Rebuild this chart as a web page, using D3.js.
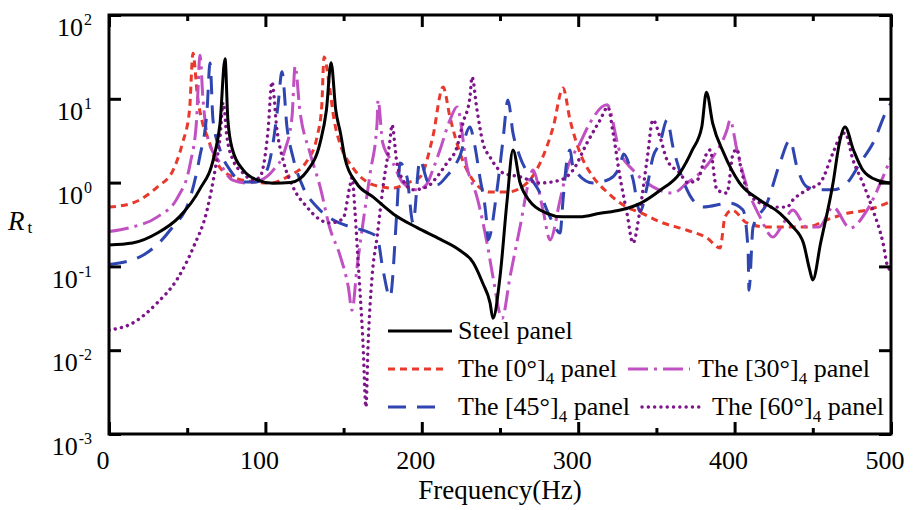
<!DOCTYPE html>
<html><head><meta charset="utf-8">
<script src="https://cdn.jsdelivr.net/npm/d3@7"></script>
<style>
html,body{margin:0;padding:0;background:#fff;}
#wrap{position:relative;width:915px;height:510px;overflow:hidden;}
#wrap svg{position:absolute;left:0;top:0;display:block;}
.lbl{position:absolute;white-space:nowrap;line-height:1;color:#000;font-family:'Liberation Serif','Times New Roman',serif;}
.lbl span{position:relative;}
</style></head>
<body>
<div id="wrap"><svg id="chart" width="915" height="510"></svg></div>
<script>
// ---- data (frequency Hz, R_t) ----
const xTicks = [0,100,200,300,400,500];
const xMinorTicks = [50,150,250,350,450];
const yTickExps = [-3,-2,-1,0,1,2];

const steel = [[0,0.18],[15,0.19],[31,0.25],[45,0.39],[58,0.83],[67,2.0],[71,5.1],[74.2,30],[76,5.6],[79,2.45],[86,1.4],[95,1.07],[105,0.98],[116,1.0],[127,1.4],[135,3.0],[139,7.3],[142,27],[145,7.3],[148,3.9],[151,1.9],[158,1.0],[169,0.67],[182,0.42],[197,0.29],[212,0.21],[224,0.157],[233,0.11],[239,0.063],[243.6,0.037],[245.5,0.024],[250,0.075],[254.5,0.6],[258.3,2.45],[262.8,1.0],[269,0.6],[280,0.43],[290,0.39],[301,0.39],[314,0.43],[327,0.47],[340,0.57],[352,0.8],[365,1.3],[373,2.45],[379,4.6],[382,12],[386,5.1],[393,2.26],[403,1.0],[416,0.62],[429,0.43],[437,0.3],[444,0.19],[448,0.091],[450,0.069],[455,0.19],[463,1.0],[467,2.97],[470.6,4.6],[476,2.45],[482,1.41],[491,1.07],[500,0.99]];

const panel0 = [[0,0.51],[15,0.57],[31,0.89],[41,1.41],[47,2.97],[51.5,7.35],[53.7,35],[56.5,11],[60,5],[63,3.5],[69,1.71],[79,1.17],[92,1.02],[103,0.99],[114,1.17],[127,1.86],[133,3.5],[136,8],[137.5,31.5],[141,13.8],[144,5.5],[148,2.8],[156,1.5],[169,0.94],[182,0.86],[190.5,0.99],[199,1.17],[207,3.5],[213.6,13.8],[218,6.06],[224.4,2.26],[232.7,1.07],[243.6,0.77],[254.5,0.77],[267.3,0.99],[275.6,1.71],[284,4.6],[290.3,13.5],[294.8,5.58],[301.2,2.26],[309.5,1.17],[318.4,0.77],[331.2,0.51],[339.5,0.44],[352.3,0.34],[369.6,0.27],[382.4,0.218],[390.7,0.166],[393.9,0.39],[398.3,0.47],[407.9,0.33],[420.7,0.295],[433.5,0.295],[446.3,0.295],[459.1,0.36],[471.9,0.43],[484.7,0.47],[497.4,0.57],[500,0.6]];

const panel30 = [[0,0.26],[15,0.295],[31,0.39],[44,0.67],[52,1.71],[56,5.6],[58.2,33],[60,10.5],[63,3.5],[71,1.71],[79,1.07],[88,0.99],[97,1.07],[105,1.41],[112.5,2.45],[117,6.06],[119,24.6],[122,7.35],[128.5,2.26],[135,0.89],[141,0.295],[148,0.13],[153,0.057],[155.4,0.030],[158.6,0.098],[162.4,0.33],[167,1.3],[171.4,5.14],[172,9.68],[175,2.97],[181.6,1.71],[188,0.99],[197,0.82],[203,0.95],[207,1.41],[211.6,2.45],[218,5.58],[222.5,8],[228.9,1.53],[235.3,0.67],[241.7,0.19],[245.5,0.075],[251.3,0.024],[256.4,0.075],[262.8,0.295],[269.2,1.17],[271,1.41],[277.5,0.47],[282,0.207],[288.4,0.62],[292.8,1.41],[301.2,2.97],[307.5,5.14],[318.4,8.5],[326.7,2.3],[335,1.41],[347.8,0.89],[360.6,0.75],[369.6,0.99],[377.9,1.3],[386.2,2.02],[395.1,4.24],[397.1,5.58],[401.5,2.45],[407.9,0.89],[416.2,0.39],[424.6,0.224],[430,0.3],[437.3,0.47],[446,0.295],[454,0.295],[462.9,0.51],[473.8,0.287],[484.7,0.47],[494.9,1.17],[500,2.0]];

const panel45 = [[0,0.105],[22,0.137],[39,0.27],[52,0.67],[58,2.02],[62.7,7.35],[64.6,26.7],[66.5,5.58],[71,2.45],[77.4,1.41],[85.7,1.02],[94.6,1.02],[101,1.41],[104.9,2.97],[108.1,8.5],[110.6,21],[113.8,4.6],[117.6,2.02],[124,0.89],[133,0.51],[143.2,0.36],[156,0.29],[165,0.26],[171.4,0.224],[175.2,0.091],[179.7,0.043],[184.1,0.47],[186.1,1.71],[190.5,1.17],[194.4,0.33],[198.8,1.86],[204,1.02],[209.7,0.94],[216,1.2],[224,2.0],[230.8,4.6],[233.5,3.0],[237,1.2],[241.7,0.295],[242.3,0.207],[248.1,0.82],[251.9,3.22],[255.1,9.68],[258.3,3.91],[262.8,2.02],[269.2,1.17],[275.6,0.75],[280,0.47],[283.9,0.33],[288.4,0.25],[290.3,0.62],[292.8,1.86],[294.8,2.45],[296.7,1.53],[309.5,0.99],[320,1.1],[326.7,1.6],[329,2.2],[335,1.1],[339.5,0.45],[344,0.89],[347.8,2.02],[352.3,2.97],[356.8,5.58],[360.6,2.66],[367,1.07],[379.8,0.51],[397.1,0.57],[405.4,0.47],[408.6,0.157],[409.2,0.052],[411.8,0.295],[420.7,0.57],[429,1.71],[435.4,3.22],[439.9,1.53],[446.3,0.89],[454.6,0.82],[462.9,0.82],[471.9,0.99],[480.2,1.71],[488.5,2.97],[497.4,7.35],[500,8.9]];

const panel60 = [[0,0.0174],[15,0.021],[31,0.037],[43.5,0.07],[54,0.17],[62.7,0.47],[67.8,1.41],[71,3.5],[73,9.0],[75.4,3.5],[79.3,1.86],[85.7,1.3],[92,1.07],[96.5,1.17],[99.7,2.02],[101.7,4.24],[104.2,15.9],[107.4,4.24],[111.3,1.86],[117.6,0.89],[126.6,0.51],[135,0.36],[141.3,0.33],[149.6,0.37],[154,0.9],[155.4,1.15],[157.3,0.45],[159.2,0.12],[162.4,0.0122],[164.3,0.0021],[165.6,0.0109],[168.2,0.075],[171.4,0.224],[175.2,0.89],[179.7,3.22],[180.9,4.9],[184.1,1.71],[188,1.07],[194.4,0.82],[203.3,0.89],[209.7,1.17],[216,1.71],[222.5,2.66],[226.3,5.14],[230.8,10.5],[232.1,18.2],[235.3,7.35],[239.1,2.97],[243.6,2.02],[252,1.3],[263,1.17],[275.6,0.99],[288.4,1.07],[296.7,1.41],[305.6,2.97],[314,5.58],[319,7.98],[322.3,3.91],[326.7,1.17],[331.2,0.43],[335,0.19],[339.5,0.47],[344,1.86],[347.8,5.58],[352.3,3.5],[356.8,1.86],[365,1.3],[370,1.0],[376,1.07],[382.4,2.26],[384.3,2.45],[388.7,0.82],[395.1,0.75],[399,2.2],[401.5,2.5],[404,1.5],[408,0.82],[416.2,0.57],[424.6,0.51],[433.5,0.51],[437.3,0.62],[446.3,0.82],[454.6,0.99],[462.9,2.26],[467.4,3.5],[470.6,3.91],[475.7,1.86],[482,0.99],[488.5,0.47],[494.9,0.19],[498,0.098],[500,0.09]];

// legend labels: [before subscript, subscript, after]
const seriesLabels = [["Steel panel","",""],["The [0°]","4"," panel"],["The [30°]","4"," panel"],["The [45°]","4"," panel"],["The [60°]","4"," panel"]];

// ---- styles ----
const styles = [
  {data: steel,   color:"#000000", dash:null,          cap:"butt",  w:3},
  {data: panel0,  color:"#e8392c", dash:"7,5",         cap:"butt",  w:3},
  {data: panel30, color:"#c150c3", dash:"20,6,3,6",    cap:"butt",  w:3},
  {data: panel45, color:"#2f46b0", dash:"18,11",       cap:"butt",  w:3},
  {data: panel60, color:"#7d1489", dash:"0.1,6.2",     cap:"round", w:3.4}
];

const L=109, R=891, T=15, B=434;
const svg = d3.select("#chart");
const wrap = d3.select("#wrap");
const x = d3.scaleLinear().domain([0,500]).range([L,R]);
const y = d3.scaleLog().domain([1e-3,1e2]).range([B,T]);

// HTML text label placed by baseline
function lbl(px, baseline, size, align){
  const d = wrap.append("div").attr("class","lbl")
    .style("font-size",size+"px").style("top",(baseline - 0.8375*size)+"px");
  if(align==="middle"){ d.style("left",px+"px").style("transform","translateX(-50%)"); }
  else if(align==="end"){ d.style("left","0px").style("width",px+"px").style("text-align","right"); }
  else { d.style("left",px+"px"); }
  return d;
}

// ---- curves ----
svg.append("defs").append("clipPath").attr("id","clip")
  .append("rect").attr("x",L).attr("y",T).attr("width",R-L).attr("height",B-T);
const line = d3.line().x(d=>x(d[0])).y(d=>y(d[1])).curve(d3.curveMonotoneX);
const plot = svg.append("g").attr("clip-path","url(#clip)");
[1,2,3,4,0].forEach(i=>{
  const s = styles[i];
  plot.append("path").datum(s.data).attr("d",line)
    .attr("fill","none").attr("stroke",s.color).attr("stroke-width",s.w)
    .attr("stroke-dasharray",s.dash).attr("stroke-linecap",s.cap).attr("stroke-linejoin","round");
});

// ---- axes (ticks) ----
function styleAxis(g){
  g.select(".domain").remove();
  g.selectAll(".tick line").attr("stroke","#000").attr("stroke-width",3);
  g.selectAll(".tick text").remove();
}
[[d3.axisBottom,B,xTicks,-12],[d3.axisBottom,B,xMinorTicks,-6],[d3.axisTop,T,xTicks,-12],[d3.axisTop,T,xMinorTicks,-6]].forEach(a=>{
  const g = svg.append("g").attr("transform",`translate(0,${a[1]})`)
    .call(a[0](x).tickValues(a[2]).tickSizeInner(a[3]).tickSizeOuter(0).tickFormat(""));
  styleAxis(g);
});
const yVals = yTickExps.map(e=>Math.pow(10,e));
[[d3.axisLeft,L],[d3.axisRight,R]].forEach(a=>{
  const g = svg.append("g").attr("transform",`translate(${a[1]},0)`)
    .call(a[0](y).tickValues(yVals).tickSizeInner(-12).tickSizeOuter(0).tickFormat(""));
  styleAxis(g);
});

// frame
svg.append("rect").attr("x",L).attr("y",T).attr("width",R-L).attr("height",B-T)
  .attr("fill","none").attr("stroke","#000").attr("stroke-width",3);

// tick labels
xTicks.forEach(v=> lbl(x(v)-6, 470, 26, "middle").text(String(v)));
yVals.forEach((v,i)=>{
  const d = lbl(92, y(v)+22, 26, "end");
  d.append("span").text("10");
  d.append("span").style("font-size","16px").style("top","-11px").style("margin-left","1px").text(String(yTickExps[i]));
});

// axis titles
lbl(500, 500, 27, "middle").text("Frequency(Hz)");
const rl = lbl(8, 231, 27, "start");
rl.append("span").style("font-style","italic").text("R");
rl.append("span").style("font-size","17px").style("top","3px").style("margin-left","3px").text("t");

// ---- legend ----
const legendPos = [
  {lx:388, ly:331, tx:458, len:64},
  {lx:388, ly:369, tx:458, len:58},
  {lx:628, ly:369, tx:698, len:62},
  {lx:388, ly:407, tx:458, len:58},
  {lx:642, ly:407, tx:712, len:62}
];
styles.forEach((s,i)=>{
  const p = legendPos[i];
  svg.append("line").attr("x1",p.lx).attr("x2",p.lx+p.len).attr("y1",p.ly).attr("y2",p.ly)
    .attr("stroke",s.color).attr("stroke-width",s.w).attr("stroke-dasharray",s.dash).attr("stroke-linecap",s.cap);
  const lab = seriesLabels[i];
  const d = lbl(p.tx, p.ly+9, 26, "start");
  d.append("span").text(lab[0]);
  if(lab[1]){
    d.append("span").style("font-size","17px").style("top","7px").text(lab[1]);
    d.append("span").style("white-space","pre").text(lab[2]);
  }
});
</script>
</body></html>
